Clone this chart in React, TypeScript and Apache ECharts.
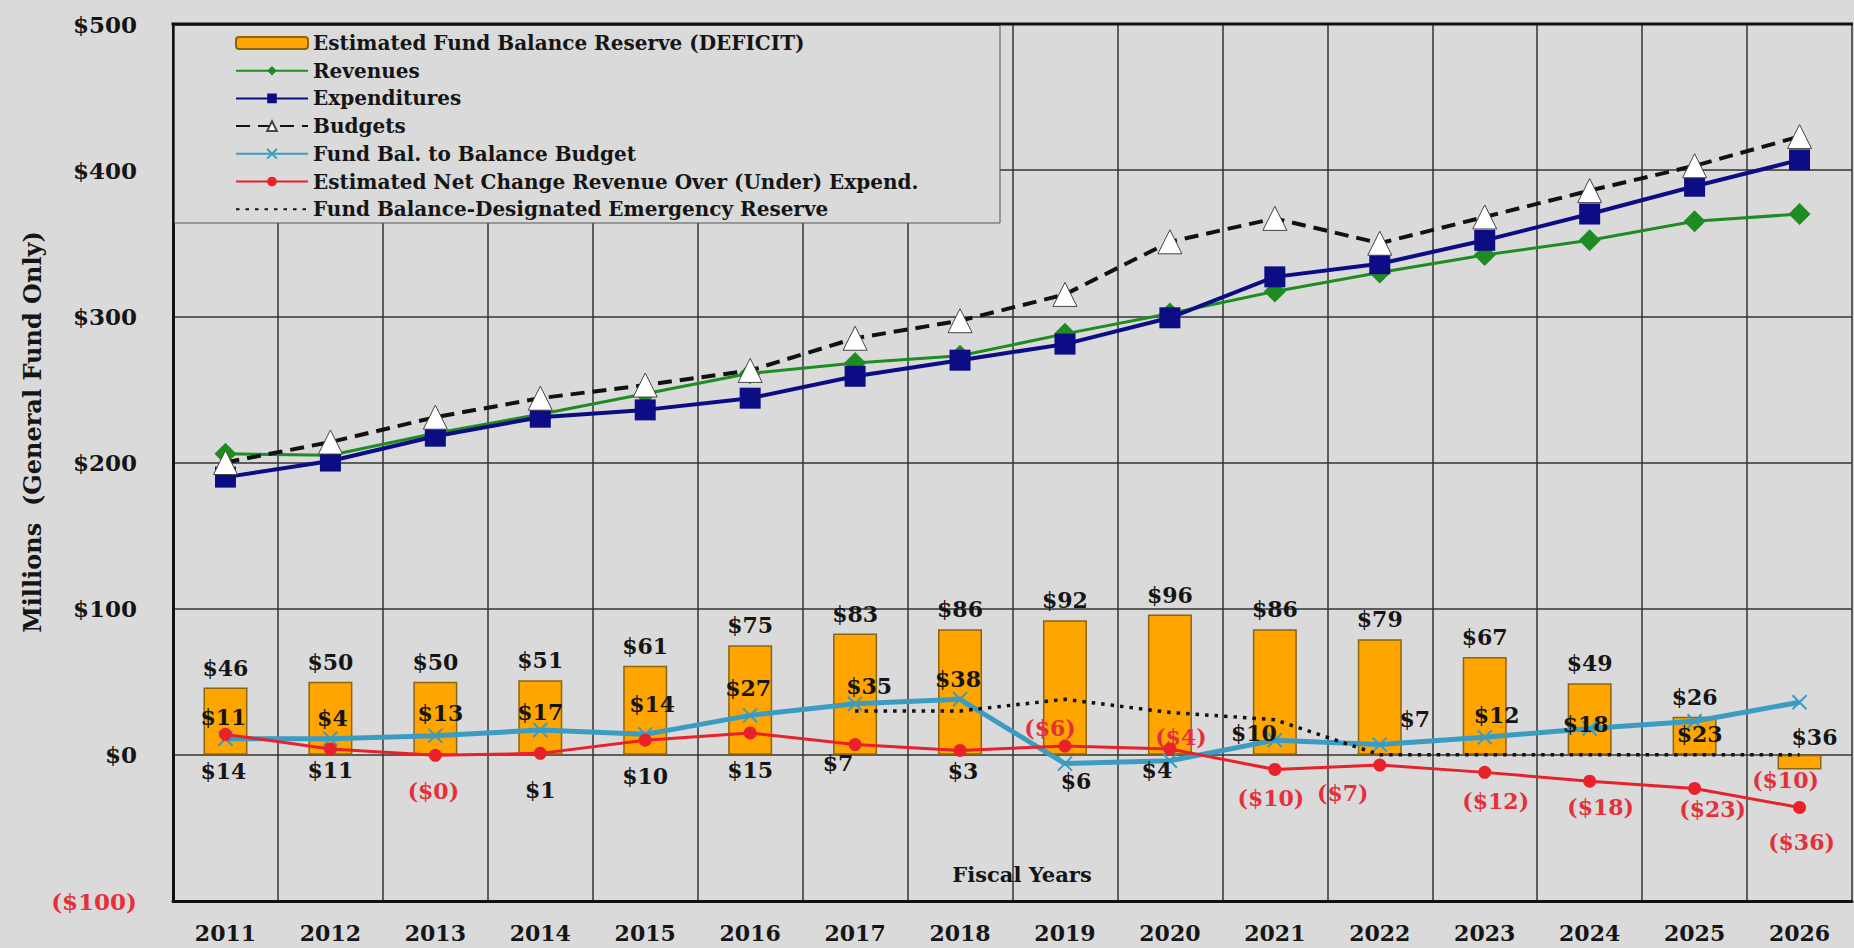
import React, { useEffect, useRef } from "react";
import * as echarts from "echarts";

// ---------------- DATA ----------------
const years = ["2011", "2012", "2013", "2014", "2015", "2016", "2017", "2018", "2019", "2020", "2021", "2022", "2023", "2024", "2025", "2026"];
const fundBalanceReserve = [46, 50, 50, 51, 61, 75, 83, 86, 92, 96, 86, 79, 67, 49, 26, -10];
const revenues = [206, 205, 220, 233, 247, 261, 268, 273, 288, 302, 317, 330, 342, 352, 365, 370];
const expenditures = [190, 201, 218, 231, 236, 244, 259, 270, 281, 299, 327, 336, 352, 370, 389, 407];
const budgets = [200, 214, 231, 244, 253, 263, 285, 297, 315, 351, 367, 350, 368, 386, 403, 423];
const fundBalToBalanceBudget = [11, 11, 13, 17, 14, 27, 35, 38, -6, -4, 10, 7, 12, 18, 23, 36];
const netChange = [14, 4, -0.3, 1, 10, 15, 7, 3, 6, 4, -10, -7, -12, -18, -23, -36];
const emergencyReserve: (number | null)[] = [null, null, null, null, null, null, 30, 30, 38, 29, 24, 0, 0, 0, 0, 0];
const yMin = -100;
const yMax = 500;
const yInterval = 100;

const seriesNames = {
  bar: "Estimated Fund Balance Reserve (DEFICIT)",
  rev: "Revenues",
  exp: "Expenditures",
  bud: "Budgets",
  fbb: "Fund Bal. to Balance Budget",
  net: "Estimated Net Change Revenue Over (Under) Expend.",
  res: "Fund Balance-Designated Emergency Reserve",
};

// ---------------- LAYOUT (label nudges, px) ----------------
const fbbLabelOffsets = [[-2, -22], [0, 31], [5, -23], [0, -18], [7, -30], [-2, -27], [14, -18], [-2, -20], [-15, -36], [11, -24], [-21, -7], [35, -26], [12, -22], [-4, -5], [5, 13], [15, 35]];
const netLabelOffsets = [[-2, 37], [2, -31], [-2, 36], [0, 37], [0, 36], [0, 37], [-17, 18], [3, 21], [11, 35], [-13, 21], [-4, 29], [-37, 28], [11, 29], [11, 26], [18, 21], [2, 35]];
const resLabelOffsets = [[0, 0], [0, 0], [0, 0], [0, 0], [0, 0], [0, 0], [52, 16], [11, 13], [51, -11], [29, -18], [30, -12], [40, 24], [49, 5], [42, 13], [24, 14], [40, 17]];

const BG = "#dadada";
const FONT = "'DejaVu Serif', serif";
const RED_TXT = "#e5303a";
const TXT = "#151515";

const fmtRich = (v: number) =>
  v < 0 ? `{n|($${Math.abs(Math.round(v))})}` : `{p|$${Math.round(v)}}`;

const rich = {
  p: { color: TXT, fontSize: 22, fontWeight: "bold", fontFamily: FONT },
  n: { color: RED_TXT, fontSize: 22, fontWeight: "bold", fontFamily: FONT },
};

const lineLabel = (offsets: number[][]) => (v: number | null, i: number) =>
  v === null
    ? null
    : { value: v, label: { offset: offsets[i] } };

export default function App() {
  const ref = useRef<HTMLDivElement>(null);

  useEffect(() => {
    if (!ref.current) return;
    const chart = echarts.init(ref.current, undefined, { renderer: "svg" });

    const labelBase = {
      show: true,
      position: "inside",
      formatter: (p: any) => fmtRich(p.value),
      rich,
    };

    const option: any = {
      animation: false,
      backgroundColor: BG,
      grid: { left: 173, right: 2, top: 24, bottom: 47, containLabel: false },
      legend: {
        orient: "vertical",
        left: 235,
        top: 33,
        padding: 0,
        itemGap: 7.7,
        itemWidth: 72,
        itemHeight: 12,
        selectedMode: false,
        z: 6,
        textStyle: { fontFamily: FONT, fontWeight: "bold", fontSize: 20, lineHeight: 20, color: TXT },
        data: [
          seriesNames.bar,
          seriesNames.rev,
          seriesNames.exp,
          seriesNames.bud,
          seriesNames.fbb,
          seriesNames.net,
          { name: seriesNames.res, itemStyle: { opacity: 0 } },
        ],
      },
      xAxis: {
        type: "category",
        data: years,
        boundaryGap: true,
        axisLine: { show: true, onZero: false, lineStyle: { color: "#111", width: 3 } },
        axisTick: { show: false },
        axisLabel: { fontFamily: FONT, fontWeight: "bold", fontSize: 22, color: TXT, margin: 21 },
        splitLine: { show: true, lineStyle: { color: "#333", width: 1.5 } },
      },
      yAxis: {
        type: "value",
        min: yMin,
        max: yMax,
        interval: yInterval,
        axisLine: { show: true, lineStyle: { color: "#111", width: 3 } },
        axisTick: { show: false },
        axisLabel: {
          fontFamily: FONT,
          fontWeight: "bold",
          fontSize: 23,
          margin: 36,
          color: (v: any) => (Number(v) < 0 ? RED_TXT : TXT),
          formatter: (v: number) => (v < 0 ? `($${Math.abs(v)})` : `$${v}`),
        },
        splitLine: { show: true, lineStyle: { color: "#333", width: 1.5 } },
      },
      graphic: [
        {
          type: "rect",
          z: 1,
          shape: { x: 174.5, y: 25.5, width: 825.5, height: 197.5 },
          style: { fill: BG, stroke: "#555", lineWidth: 1 },
        },
        {
          type: "line",
          z: 10,
          shape: { x1: 171.5, y1: 24, x2: 1853, y2: 24 },
          style: { stroke: "#111", lineWidth: 3 },
        },
        {
          type: "text",
          z: 10,
          x: 32,
          y: 432,
          rotation: Math.PI / 2,
          style: {
            text: "Millions  (General Fund Only)",
            fontFamily: FONT,
            fontWeight: "bold",
            fontSize: 24,
            fill: TXT,
            align: "center",
            verticalAlign: "middle",
            textAlign: "center",
            textVerticalAlign: "middle",
          },
        },
        {
          type: "text",
          z: 10,
          x: 1022,
          y: 874,
          style: {
            text: "Fiscal Years",
            fontFamily: FONT,
            fontWeight: "bold",
            fontSize: 21,
            fill: TXT,
            align: "center",
            verticalAlign: "middle",
            textAlign: "center",
            textVerticalAlign: "middle",
          },
        },
      ],
      series: [
        {
          name: seriesNames.bar,
          type: "bar",
          barWidth: 44,
          z: 2,
          itemStyle: { color: "#ffa500", borderColor: "#8a6512", borderWidth: 1.5 },
          label: {
            show: true,
            position: "top",
            distance: 9,
            formatter: (p: any) => fmtRich(p.value),
            rich,
          },
          data: fundBalanceReserve.map((v) =>
            v < 0 ? { value: v, label: { position: "inside", offset: [-14, 18] } } : v
          ),
        },
        {
          name: seriesNames.fbb,
          type: "line",
          z: 3,
          symbol: "path://M0,0 L10,10 M10,0 L0,10",
          symbolSize: 14,
          showAllSymbol: true,
          lineStyle: { color: "#3b9cc2", width: 5 },
          itemStyle: { color: "#3b9cc2", borderColor: "#3b9cc2", borderWidth: 2 },
          label: labelBase,
          data: fundBalToBalanceBudget.map(lineLabel(fbbLabelOffsets)),
        },
        {
          name: seriesNames.net,
          type: "line",
          z: 4,
          symbol: "circle",
          symbolSize: 13,
          showAllSymbol: true,
          lineStyle: { color: "#e8212b", width: 3 },
          itemStyle: { color: "#e8212b" },
          label: labelBase,
          data: netChange.map(lineLabel(netLabelOffsets)),
        },
        {
          name: seriesNames.res,
          type: "line",
          z: 4,
          symbol: "none",
          connectNulls: false,
          lineStyle: { color: "#111", width: 3.5, type: [3.5, 6] },
          itemStyle: { color: "#111" },
          label: labelBase,
          data: emergencyReserve.map(lineLabel(resLabelOffsets)),
        },
        {
          name: seriesNames.rev,
          type: "line",
          z: 5,
          symbol: "diamond",
          symbolSize: 22,
          showAllSymbol: true,
          lineStyle: { color: "#1f8c22", width: 3 },
          itemStyle: { color: "#1f8c22" },
          data: revenues,
        },
        {
          name: seriesNames.exp,
          type: "line",
          z: 6,
          symbol: "rect",
          symbolSize: 21,
          showAllSymbol: true,
          lineStyle: { color: "#0c0c84", width: 4 },
          itemStyle: { color: "#0c0c84" },
          data: expenditures,
        },
        {
          name: seriesNames.bud,
          type: "line",
          z: 7,
          symbol: "triangle",
          symbolSize: [24, 24],
          showAllSymbol: true,
          lineStyle: { color: "#111", width: 4, type: [14, 8] },
          itemStyle: { color: "#ffffff", borderColor: "#444", borderWidth: 1 },
          data: budgets,
        },
      ],
    };

    chart.setOption(option);
    return () => chart.dispose();
  }, []);

  return (
    <div
      ref={ref}
      style={{ position: "fixed", left: 0, top: 0, width: 1854, height: 948 }}
    />
  );
}
